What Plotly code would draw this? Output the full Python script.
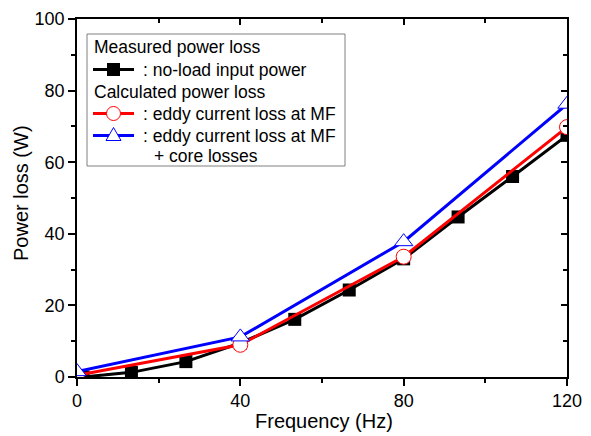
import plotly.graph_objects as go

# measured no-load input power
freq_meas = [1.5, 13.33, 26.67, 40, 53.33, 66.67, 80, 93.33, 106.67, 120]
loss_meas = [0, 1.3, 4.3, 9.5, 16.1, 24.3, 33.0, 44.7, 56.0, 67.5]

# calculated losses
freq_calc = [0, 40, 80, 120]
loss_eddy = [0.5, 9.0, 33.6, 69.8]
loss_eddy_core = [1.5, 11.2, 37.8, 76.2]

legend_headers = ["Measured power loss", "Calculated power loss"]
legend_labels = [": no-load input power", ": eddy current loss at MF",
                 ": eddy current loss at MF"]
legend_extra = "+ core losses"

FONT = "Arial, Liberation Sans, sans-serif"
W, H = 583, 428
L, R, T, B = 69, 24, 11, 59
# the page body has an 8px margin; positions below are in page pixels
OFF = 8


def px(x):
    return (x - OFF - L) / (W - L - R)


def py(y):
    return (H - B - (y - OFF)) / (H - T - B)


fig = go.Figure()
fig.add_trace(go.Scatter(
    x=freq_meas, y=loss_meas, mode="lines+markers", showlegend=False,
    line=dict(color="black", width=3),
    marker=dict(symbol="square", size=13, color="black"),
))
fig.add_trace(go.Scatter(
    x=freq_calc, y=loss_eddy, mode="lines+markers", showlegend=False,
    line=dict(color="#ff0000", width=3),
    marker=dict(symbol="circle", size=15, color="white",
                line=dict(color="#ff0000", width=1)),
))
fig.add_trace(go.Scatter(
    x=freq_calc, y=loss_eddy_core, mode="lines+markers", showlegend=False,
    line=dict(color="#0000ff", width=3),
    marker=dict(symbol="triangle-up", size=16, color="white",
                line=dict(color="#0000ff", width=1)),
))
# invisible trace to anchor the mirrored axes
fig.add_trace(go.Scatter(x=[None], y=[None], xaxis="x2", yaxis="y2",
                         showlegend=False, hoverinfo="skip"))

# hand-built legend box
shapes = [dict(type="rect", xref="paper", yref="paper",
               x0=px(87), x1=px(345), y0=py(34), y1=py(166),
               line=dict(color="#808080", width=1), fillcolor="white", layer="above")]
annotations = []
row_y = [47, 69.5, 91.5, 113.5, 135.5, 156]
for text, ry in zip(legend_headers, [row_y[0], row_y[2]]):
    annotations.append(dict(text=text, x=px(92), y=py(ry), xref="paper", yref="paper",
                            xanchor="left", yanchor="middle", showarrow=False,
                            font=dict(size=17.5)))
colors = ["black", "#ff0000", "#0000ff"]
for text, ry, col in zip(legend_labels, [row_y[1], row_y[3], row_y[4]], colors):
    shapes.append(dict(type="line", xref="paper", yref="paper",
                       x0=px(93), x1=px(134), y0=py(ry), y1=py(ry),
                       line=dict(color=col, width=3), layer="above"))
    annotations.append(dict(text=text, x=px(141), y=py(ry), xref="paper", yref="paper",
                            xanchor="left", yanchor="middle", showarrow=False,
                            font=dict(size=17.5)))
annotations.append(dict(text=legend_extra, x=px(152), y=py(row_y[5]), xref="paper", yref="paper",
                        xanchor="left", yanchor="middle", showarrow=False,
                        font=dict(size=17.5)))
mx = px(113.5)
shapes.append(dict(type="rect", xref="paper", yref="paper", xsizemode="pixel", ysizemode="pixel",
                   xanchor=mx, yanchor=py(row_y[1]), x0=-6.5, x1=6.5, y0=-6.5, y1=6.5,
                   fillcolor="black", line=dict(width=0), layer="above"))
shapes.append(dict(type="circle", xref="paper", yref="paper", xsizemode="pixel", ysizemode="pixel",
                   xanchor=mx, yanchor=py(row_y[3]), x0=-7, x1=7, y0=-7, y1=7,
                   fillcolor="white", line=dict(color="#ff0000", width=1), layer="above"))
shapes.append(dict(type="path", xref="paper", yref="paper", xsizemode="pixel", ysizemode="pixel",
                   xanchor=mx, yanchor=py(row_y[4]), path="M -7.5,-5 L 7.5,-5 L 0,8 Z",
                   fillcolor="white", line=dict(color="#0000ff", width=1), layer="above"))

# axis titles placed as annotations
annotations.append(dict(text="Frequency (Hz)", x=px(323.5), y=py(421), xref="paper", yref="paper",
                        xanchor="center", yanchor="middle", showarrow=False,
                        font=dict(size=20)))
annotations.append(dict(text="Power loss (W)", x=px(21), y=py(193), xref="paper", yref="paper",
                        xanchor="center", yanchor="middle", showarrow=False, textangle=-90,
                        font=dict(size=20)))

axis_common = dict(showgrid=False, zeroline=False, linecolor="black", linewidth=1.5,
                   tickcolor="black", tickwidth=1.5, automargin=False)

fig.update_layout(
    width=W, height=H,
    plot_bgcolor="white", paper_bgcolor="white",
    margin=dict(l=L, r=R, t=T, b=B),
    font=dict(family=FONT, size=18, color="black"),
    showlegend=False,
    shapes=shapes, annotations=annotations,
    xaxis=dict(range=[0, 120], tickvals=[0, 40, 80, 120], ticks="outside", ticklen=7,
               minor=dict(tickvals=[20, 60, 100], ticks="outside", ticklen=4,
                          tickcolor="black", tickwidth=1.5),
               showline=True, mirror=True, **axis_common),
    yaxis=dict(range=[0, 100], tickvals=[0, 20, 40, 60, 80, 100], ticks="outside", ticklen=7,
               minor=dict(tickvals=[10, 30, 50, 70, 90], ticks="outside", ticklen=4,
                          tickcolor="black", tickwidth=1.5),
               showline=True, mirror=True, **axis_common),
    xaxis2=dict(range=[0, 120], overlaying="x", side="top", tickvals=[0, 40, 80, 120],
                ticks="inside", ticklen=6, showticklabels=False,
                minor=dict(tickvals=[20, 60, 100], ticks="inside", ticklen=4,
                           tickcolor="black", tickwidth=1.5),
                **axis_common),
    yaxis2=dict(range=[0, 100], overlaying="y", side="right", tickvals=[0, 20, 40, 60, 80, 100],
                ticks="inside", ticklen=6, showticklabels=False,
                minor=dict(tickvals=[10, 30, 50, 70, 90], ticks="inside", ticklen=4,
                           tickcolor="black", tickwidth=1.5),
                **axis_common),
)

fig.write_html("out.html")
